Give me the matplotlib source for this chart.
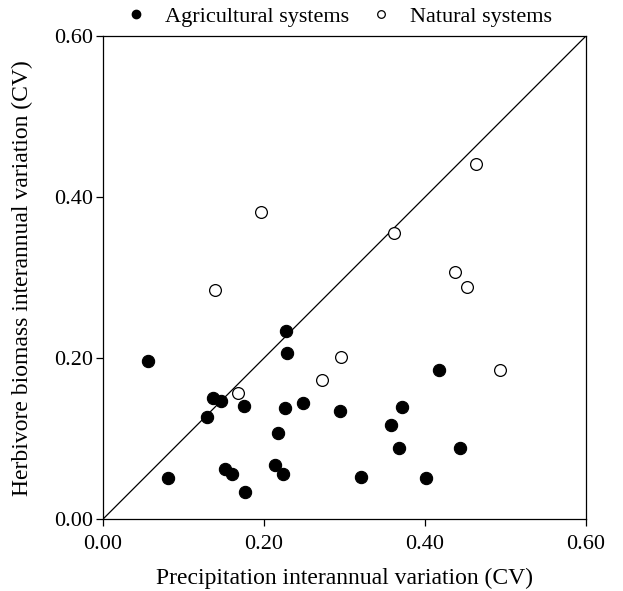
import numpy as np
import matplotlib
matplotlib.use("Agg")
import matplotlib.pyplot as plt
from matplotlib.lines import Line2D

plt.rcParams['font.family'] = ['Liberation Serif', 'DejaVu Serif']

# agricultural systems (filled)
agri_x = [0.056, 0.227, 0.229, 0.137, 0.147, 0.130, 0.175, 0.226, 0.249, 0.218,
          0.214, 0.224, 0.152, 0.161, 0.176, 0.081, 0.294, 0.417, 0.372, 0.358,
          0.368, 0.443, 0.321, 0.402]
agri_y = [0.196, 0.234, 0.206, 0.151, 0.147, 0.127, 0.141, 0.138, 0.144, 0.107,
          0.068, 0.056, 0.062, 0.056, 0.034, 0.051, 0.135, 0.186, 0.139, 0.117,
          0.088, 0.088, 0.053, 0.051]

# natural systems (open)
nat_x = [0.464, 0.197, 0.362, 0.438, 0.452, 0.139, 0.296, 0.272, 0.493, 0.168]
nat_y = [0.441, 0.382, 0.356, 0.307, 0.289, 0.285, 0.202, 0.173, 0.185, 0.157]

ticks = [0.0, 0.2, 0.4, 0.6]
tick_labels = ["0.00", "0.20", "0.40", "0.60"]

fig = plt.figure(figsize=(6.23, 5.91), dpi=100)
ax = fig.add_axes([0.165, 0.1213, 0.7755, 0.8177])

ax.plot([0, 0.6], [0, 0.6], color='black', lw=0.9, zorder=1)
ax.scatter(agri_x, agri_y, s=78, c='black', edgecolors='black', linewidths=0.8, zorder=3)
ax.scatter(nat_x, nat_y, s=72, facecolors='white', edgecolors='black', linewidths=0.9, zorder=3)

ax.set_xlim(0, 0.6)
ax.set_ylim(0, 0.6)
ax.set_xticks(ticks)
ax.set_xticklabels(tick_labels)
ax.set_yticks(ticks)
ax.set_yticklabels(tick_labels)
ax.tick_params(direction='out', length=5, width=0.9, labelsize=16)
ax.tick_params(axis='x', pad=6)
ax.tick_params(axis='y', pad=2)
for sp in ax.spines.values():
    sp.set_linewidth(0.9)

ax.set_xlabel("Precipitation interannual variation (CV)", fontsize=17, labelpad=10)
ax.set_ylabel("Herbivore biomass interannual variation (CV)", fontsize=17, labelpad=15)

handles = [
    Line2D([], [], marker='o', ls='none', color='black', markersize=6),
    Line2D([], [], marker='o', ls='none', markerfacecolor='white', markeredgecolor='black',
           markersize=5.5, markeredgewidth=0.9),
]
fig.legend(handles, ["Agricultural systems", "Natural systems"], loc='center',
           bbox_to_anchor=(0.540, 0.972), ncol=2, frameon=False, fontsize=16,
           handletextpad=0.6, columnspacing=0.74, handlelength=1.4)

fig.savefig("out.png", dpi=100)
